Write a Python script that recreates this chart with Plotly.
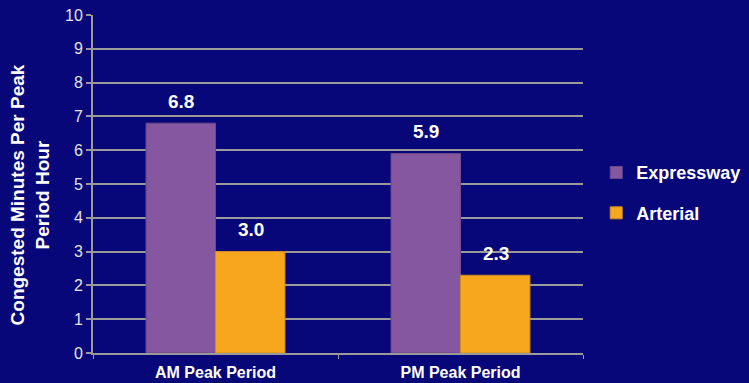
import plotly.graph_objects as go

categories = ["AM Peak Period", "PM Peak Period"]
expressway = [6.8, 5.9]
arterial = [3.0, 2.3]
series_names = ["Expressway", "Arterial"]
colors = ["#8657A1", "#F7A71E"]
edge_colors = ["#6E4A8C", "#D08C1A"]
y_title = "Congested Minutes Per Peak<br>Period Hour"

BG = "#07077A"
GRID = "#9A9A9A"
FONT = "Liberation Sans, Arial, sans-serif"

fig = go.Figure()
for i, (name, vals) in enumerate(zip(series_names, [expressway, arterial])):
    fig.add_trace(go.Bar(
        x=categories, y=vals, name=name,
        marker=dict(color=colors[i], line=dict(width=1, color=edge_colors[i])),
        legendgroup=name,
    ))

# value labels
offsets = [-35, 35]
for i, vals in enumerate([expressway, arterial]):
    for c, v in zip(categories, vals):
        fig.add_annotation(
            x=c, y=v, text=f"<b>{v:.1f}</b>", showarrow=False,
            xshift=offsets[i], yshift=22,
            font=dict(family=FONT, size=19, color="white"),
        )

# y-axis title
fig.add_annotation(
    xref="paper", yref="paper", x=-0.128, y=0.467,
    xanchor="center", yanchor="middle", textangle=-90,
    text=y_title, showarrow=False,
    font=dict(family=FONT, size=19, color="white", weight="bold"),
)

fig.update_layout(
    width=749, height=383,
    paper_bgcolor=BG, plot_bgcolor=BG,
    margin=dict(l=93, r=166, t=15, b=30, autoexpand=False),
    barmode="group", bargap=0.433, bargroupgap=0,
    font=dict(family=FONT, color="white"),
    showlegend=True,
    legend=dict(
        x=1.027, y=0.588, xanchor="left", yanchor="top",
        font=dict(family=FONT, size=18, color="white", weight="bold"),
        bgcolor="rgba(0,0,0,0)", tracegroupgap=14,
        itemwidth=30,
    ),
    xaxis=dict(
        showgrid=False, showline=True, linecolor=GRID, linewidth=2,
        ticks="outside", tickson="boundaries", ticklen=4, tickcolor=GRID,
        tickfont=dict(family=FONT, size=16, color="white", weight="bold"),
        ticklabelstandoff=4,
        range=[-0.5, 1.5],
    ),
    yaxis=dict(
        range=[0, 10], dtick=1, showgrid=True, gridcolor=GRID, gridwidth=2,
        showline=True, linecolor=GRID, linewidth=2,
        ticks="outside", ticklen=5, tickcolor=GRID, tickwidth=2,
        tickfont=dict(family=FONT, size=16, color="#E4E4E4"),
        zeroline=False,
    ),
)

fig.write_html("out.html")
